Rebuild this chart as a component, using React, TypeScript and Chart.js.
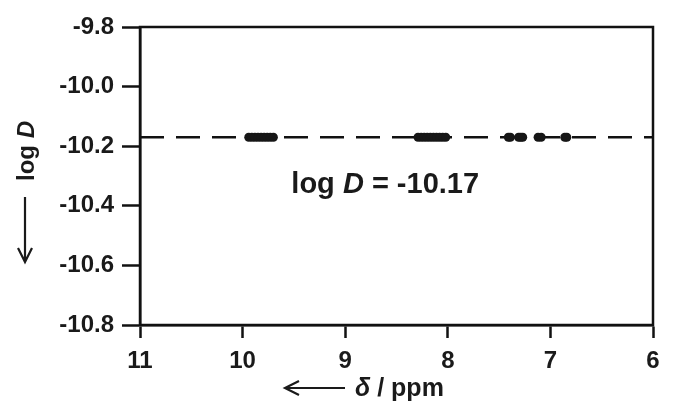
import { useEffect, useRef } from "react";
import { Chart, registerables } from "chart.js";

Chart.register(...registerables);

// x axis: chemical shift (ppm), reversed
const xMin = 6;
const xMax = 11;
const xStep = 1;
// y axis: log D
const yMin = -10.8;
const yMax = -9.8;
const yStep = 0.2;

// DOSY peak positions (δ / ppm)
const peakShifts = [
  9.94, 9.91, 9.88, 9.85, 9.82, 9.79, 9.76, 9.73, 9.7,
  8.29, 8.26, 8.23, 8.2, 8.17, 8.14, 8.11, 8.08, 8.05, 8.02,
  7.41, 7.39, 7.31, 7.29, 7.27,
  7.12, 7.09,
  6.86, 6.84,
];
// diffusion coefficient of every peak (log D)
const logDValue = -10.17;
const fitLineX = [11, 6];
const annotationText = "log D = -10.17";

const FONT = '"Liberation Sans", Arial, sans-serif';

export default function App() {
  const ref = useRef<HTMLCanvasElement | null>(null);

  useEffect(() => {
    document.body.style.margin = "0";
    document.body.style.overflow = "hidden";
    const canvas = ref.current;
    if (!canvas) return;

    const framePlugin = {
      id: "frameAndTitles",
      afterDraw(chart: any) {
        const ctx = chart.ctx as CanvasRenderingContext2D;
        const a = chart.chartArea;
        const xs = chart.scales.x;
        const ys = chart.scales.y;
        ctx.save();
        ctx.strokeStyle = "#111";
        ctx.lineWidth = 2.5;
        ctx.strokeRect(a.left, a.top, a.right - a.left, a.bottom - a.top);

        ctx.fillStyle = "#1a1a1a";
        ctx.textBaseline = "middle";

        const drawPieces = (pieces: [string, boolean][], size: number, cx: number, cy: number) => {
          const fonts = pieces.map(([, it]) => `${it ? "italic " : ""}bold ${size}px ${FONT}`);
          let total = 0;
          const widths = pieces.map(([t], i) => {
            ctx.font = fonts[i];
            const w = ctx.measureText(t).width;
            total += w;
            return w;
          });
          let x = cx - total / 2;
          ctx.textAlign = "left";
          pieces.forEach(([t], i) => {
            ctx.font = fonts[i];
            ctx.fillText(t, x, cy);
            x += widths[i];
          });
        };
        // annotation inside plot
        const ax = xs.getPixelForValue(8.61);
        const ay = ys.getPixelForValue(-10.33);
        const parts = annotationText.split("D");
        drawPieces([[parts[0], false], ["D", true], [parts[1], false]], 29, ax, ay);

        // y title (rotated)
        ctx.save();
        ctx.translate(27, 151);
        ctx.rotate(-Math.PI / 2);
        drawPieces([["log ", false], ["D", true]], 24, 0, 0);
        ctx.restore();

        // y arrow (down)
        ctx.strokeStyle = "#1a1a1a";
        ctx.lineWidth = 2.2;
        ctx.beginPath();
        ctx.moveTo(25, 197);
        ctx.lineTo(25, 262);
        ctx.moveTo(18, 248);
        ctx.lineTo(25, 262);
        ctx.lineTo(32, 248);
        ctx.stroke();

        // x title
        ctx.textAlign = "left";
        ctx.font = `italic bold 25px ${FONT}`;
        const dx = 355;
        const dy = 389;
        ctx.fillText("δ", dx, dy);
        const dw = ctx.measureText("δ").width;
        ctx.font = `bold 25px ${FONT}`;
        ctx.fillText(" / ppm", dx + dw, dy);

        // x arrow (left)
        ctx.beginPath();
        ctx.moveTo(345, 388);
        ctx.lineTo(285, 388);
        ctx.moveTo(299, 381);
        ctx.lineTo(285, 388);
        ctx.lineTo(299, 395);
        ctx.stroke();
        ctx.restore();
      },
    };

    const chart = new Chart(canvas, {
      type: "scatter",
      data: {
        datasets: [
          {
            label: "peaks",
            data: peakShifts.map((s) => ({ x: s, y: logDValue })),
            pointStyle: "circle",
            pointRadius: 4.5,
            backgroundColor: "#161616",
            borderColor: "#161616",
            borderWidth: 0,
            order: 1,
          },
          {
            label: "fit",
            data: fitLineX.map((s) => ({ x: s, y: logDValue })),
            showLine: true,
            pointRadius: 0,
            borderColor: "#111",
            borderWidth: 2.5,
            borderDash: [24, 12],
            order: 2,
          },
        ],
      },
      options: {
        responsive: false,
        animation: false,
        devicePixelRatio: 1,
        layout: { padding: { top: 27, right: 22, left: 0, bottom: 0 } },
        plugins: {
          legend: { display: false },
          tooltip: { enabled: false },
        },
        scales: {
          x: {
            type: "linear",
            reverse: true,
            min: xMin,
            max: xMax,
            ticks: {
              stepSize: xStep,
              color: "#1a1a1a",
              font: { family: FONT, size: 24, weight: "bold" },
              padding: 9,
              maxRotation: 0,
            },
            grid: {
              drawOnChartArea: false,
              drawTicks: true,
              tickLength: 13,
              tickWidth: 2.5,
              tickColor: "#111",
            },
            border: { display: true, color: "#111", width: 2.5 },
            afterFit: (s: any) => {
              s.height = 91;
            },
          },
          y: {
            type: "linear",
            min: yMin,
            max: yMax,
            ticks: {
              stepSize: yStep,
              color: "#1a1a1a",
              font: { family: FONT, size: 24, weight: "bold" },
              padding: 8,
              callback: (v: any) => Number(v).toFixed(1),
            },
            grid: {
              drawOnChartArea: false,
              drawTicks: true,
              tickLength: 18,
              tickWidth: 2.5,
              tickColor: "#111",
            },
            border: { display: true, color: "#111", width: 2.5 },
            afterFit: (s: any) => {
              s.width = 140;
            },
          },
        },
      },
      plugins: [framePlugin],
    });

    return () => chart.destroy();
  }, []);

  return (
    <div style={{ width: 675, height: 416, background: "#fff" }}>
      <canvas ref={ref} width={675} height={416} />
    </div>
  );
}
